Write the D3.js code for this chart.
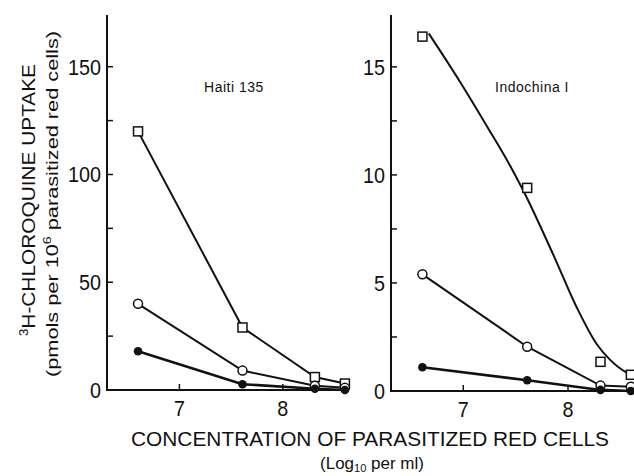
<!DOCTYPE html>
<html>
<head>
<meta charset="utf-8">
<script src="https://cdn.jsdelivr.net/npm/d3@7"></script>
<style>
  body { margin: 0; background: #fff; }
  text { font-family: "Liberation Sans", "DejaVu Sans", sans-serif; fill: #111; }
</style>
</head>
<body>
<script>
// x = log10 concentration of parasitized red cells
const concLeft  = [6.60, 7.61, 8.31, 8.60];
const concRight = [6.61, 7.61, 8.31, 8.60];

// Haiti 135 (pmols per 10^6 cells)
const haitiSquare = [120, 29, 6, 3];
const haitiOpen   = [40, 9, 2, 1];
const haitiFilled = [18, 2.7, 0.6, 0];

// Indochina I
const indoSquare = [16.4, 9.4, 1.35, 0.75];
const indoOpen   = [5.4, 2.05, 0.25, 0.2];
const indoFilled = [1.1, 0.5, 0.05, 0];

// hand drawn smooth curve for the squares in Indochina I
const indoCurveX = [6.67, 6.97, 7.22, 7.45, 7.57, 7.86, 8.08, 8.27, 8.40, 8.56, 8.63];
const indoCurveY = [16.55, 14.3, 12.3, 10.4, 9.3, 6.3, 3.9, 2.2, 1.45, 0.85, 0.7];

const leftTicks = [0, 50, 100, 150], leftMinor = [25, 75, 125];
const rightTicks = [0, 5, 10, 15], rightMinor = [2.5, 7.5, 12.5];
const xTicks = [7, 8];

const svg = d3.select("body").append("svg")
    .attr("width", 634)
    .attr("height", 476);

const panels = [
  {
    x: d3.scaleLinear().domain([6.3, 8.63]).range([107, 348]),
    y: d3.scaleLinear().domain([0, 174]).range([390, 15]),
    conc: concLeft,
    series: [haitiSquare, haitiOpen, haitiFilled],
    ticks: leftTicks, minor: leftMinor,
    label: "Haiti 135", lx: 234
  },
  {
    x: d3.scaleLinear().domain([6.31, 8.63]).range([391, 634]),
    y: d3.scaleLinear().domain([0, 17.4]).range([391, 15]),
    conc: concRight,
    series: [null, indoOpen, indoFilled],
    squares: indoSquare,
    ticks: rightTicks, minor: rightMinor,
    label: "Indochina I", lx: 532
  }
];

panels.forEach(p => {
  const g = svg.append("g");
  const [x0, x1] = p.x.range();
  const yb = p.y(0), yt = p.y.range()[1];

  // axes lines
  g.append("path")
    .attr("d", `M${x0},${yt}V${yb}H${x1}`)
    .attr("fill", "none").attr("stroke", "#111").attr("stroke-width", 2);

  // y ticks (inside)
  g.selectAll(".yt").data(p.ticks.filter(d => d > 0).concat(p.minor)).enter()
    .append("line")
    .attr("x1", x0).attr("x2", x0 + 6)
    .attr("y1", d => p.y(d)).attr("y2", d => p.y(d))
    .attr("stroke", "#111").attr("stroke-width", 1.5);

  g.selectAll(".yl").data(p.ticks).enter()
    .append("text")
    .attr("x", x0 - 6)
    .attr("y", d => p.y(d) + 8)
    .attr("text-anchor", "end")
    .style("font-size", "22px")
    .attr("textLength", d => String(d).length * 11)
    .attr("lengthAdjust", "spacingAndGlyphs")
    .text(d => d);

  // x ticks (inside)
  g.selectAll(".xt").data(xTicks).enter()
    .append("line")
    .attr("x1", d => p.x(d)).attr("x2", d => p.x(d))
    .attr("y1", yb).attr("y2", yb - 6)
    .attr("stroke", "#111").attr("stroke-width", 1.5);

  g.selectAll(".xl").data(xTicks).enter()
    .append("text")
    .attr("x", d => p.x(d))
    .attr("y", yb + 26)
    .attr("text-anchor", "middle")
    .style("font-size", "22px")
    .attr("textLength", 11)
    .attr("lengthAdjust", "spacingAndGlyphs")
    .text(d => d);

  g.append("text")
    .attr("x", p.lx).attr("y", 92)
    .attr("text-anchor", "middle")
    .style("font-size", "14px")
    .style("letter-spacing", "0.5px")
    .text(p.label);

  const line = d3.line()
    .x((d, i) => p.x(p.conc[i]))
    .y(d => p.y(d));

  // smooth curve in right panel
  if (p.squares) {
    const curve = d3.line()
      .x(d => p.x(d[0])).y(d => p.y(d[1]))
      .curve(d3.curveMonotoneX);
    g.append("path")
      .attr("d", curve(indoCurveX.map((v, i) => [v, indoCurveY[i]])))
      .attr("fill", "none").attr("stroke", "#111").attr("stroke-width", 2);
  }

  p.series.forEach((s, k) => {
    if (!s) return;
    g.append("path")
      .attr("d", line(s))
      .attr("fill", "none").attr("stroke", "#111")
      .attr("stroke-width", k === 2 ? 2.6 : 2);
  });

  const sq = p.squares || p.series[0];
  g.selectAll(".sq").data(sq).enter()
    .append("rect")
    .attr("x", (d, i) => p.x(p.conc[i]) - 4.5)
    .attr("y", d => p.y(d) - 4.5)
    .attr("width", 9).attr("height", 9)
    .attr("fill", "#fff").attr("stroke", "#111").attr("stroke-width", 1.5);

  g.selectAll(".oc").data(p.series[1]).enter()
    .append("circle")
    .attr("cx", (d, i) => p.x(p.conc[i]))
    .attr("cy", d => p.y(d))
    .attr("r", 4.5)
    .attr("fill", "#fff").attr("stroke", "#111").attr("stroke-width", 1.5);

  g.selectAll(".fc").data(p.series[2]).enter()
    .append("circle")
    .attr("cx", (d, i) => p.x(p.conc[i]))
    .attr("cy", d => p.y(d))
    .attr("r", 4.3)
    .attr("fill", "#111");
});

// y axis title
const yt = svg.append("g").attr("transform", "translate(0,200) rotate(-90)");
const t1 = yt.append("text")
  .attr("x", 0).attr("y", 35)
  .attr("text-anchor", "middle")
  .style("font-size", "19px")
  .attr("textLength", 272)
  .attr("lengthAdjust", "spacingAndGlyphs");
t1.append("tspan").attr("dy", -7).style("font-size", "12px").text("3");
t1.append("tspan").attr("dy", 7).text("H-CHLOROQUINE UPTAKE");

const t2 = yt.append("text")
  .attr("x", -4).attr("y", 58)
  .attr("text-anchor", "middle")
  .style("font-size", "17px")
  .attr("textLength", 346)
  .attr("lengthAdjust", "spacingAndGlyphs");
t2.append("tspan").text("(pmols per 10");
t2.append("tspan").attr("dy", -7).style("font-size", "11px").text("6");
t2.append("tspan").attr("dy", 7).text(" parasitized red cells)");

// x axis title
svg.append("text")
  .attr("x", 370).attr("y", 446)
  .attr("text-anchor", "middle")
  .style("font-size", "20px")
  .attr("textLength", 478)
  .attr("lengthAdjust", "spacingAndGlyphs")
  .text("CONCENTRATION  OF  PARASITIZED RED CELLS");

const t3 = svg.append("text")
  .attr("x", 372).attr("y", 469)
  .attr("text-anchor", "middle")
  .style("font-size", "17px");
t3.append("tspan").text("(Log");
t3.append("tspan").attr("dy", 3).style("font-size", "11px").text("10");
t3.append("tspan").attr("dy", -3).text(" per ml)");
</script>
</body>
</html>
